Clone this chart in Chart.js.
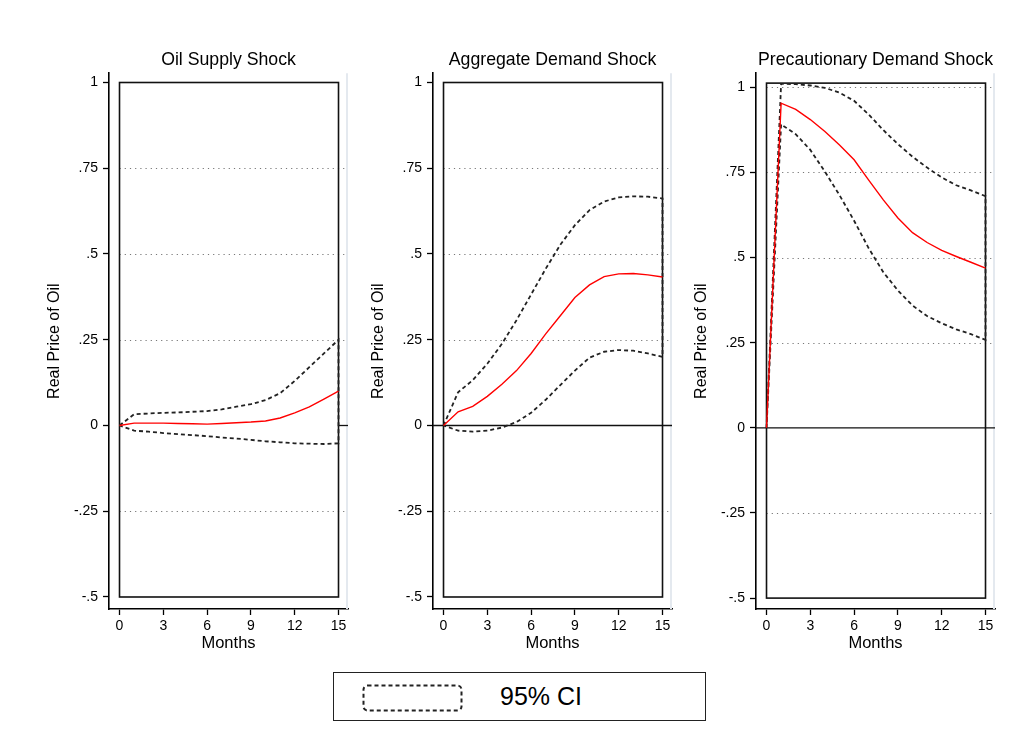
<!DOCTYPE html>
<html>
<head>
<meta charset="utf-8">
<script src="https://cdn.jsdelivr.net/npm/chart.js@4.4.1/dist/chart.umd.min.js"></script>
<style>
body{margin:0;background:#fff;width:1018px;height:753px;position:relative;overflow:hidden;font-family:"Liberation Sans",Arial,sans-serif}
canvas{position:absolute;top:40px}
#legend{position:absolute;left:333px;top:672px;width:373px;height:49px;box-sizing:border-box;border:1.5px solid #222}
#legend svg{position:absolute;left:28px;top:11px}
#legend span{position:absolute;left:166px;top:9px;font-size:25px;line-height:28px;color:#000}
</style>
</head>
<body>
<canvas id="p1" width="314" height="615" style="left:42px"></canvas>
<canvas id="p2" width="314" height="615" style="left:366px"></canvas>
<canvas id="p3" width="314" height="615" style="left:689px"></canvas>
<div id="legend">
  <svg width="102" height="29"><rect x="1.5" y="1.5" width="98" height="25" rx="4" ry="4" fill="none" stroke="#222" stroke-width="2" stroke-dasharray="4 3"/></svg>
  <span>95% CI</span>
</div>
<script>
"use strict";
// horizon 0..15 months
var months = [0,1,2,3,4,5,6,7,8,9,10,11,12,13,14,15];

// oil supply shock
var supplyIrf = [0,0.007,0.007,0.007,0.006,0.005,0.004,0.006,0.008,0.010,0.013,0.022,0.037,0.054,0.077,0.100];
var supplyHi  = [0,0.033,0.035,0.037,0.038,0.040,0.042,0.047,0.055,0.062,0.074,0.094,0.130,0.170,0.210,0.250];
var supplyLo  = [0,-0.015,-0.018,-0.022,-0.025,-0.028,-0.031,-0.035,-0.038,-0.042,-0.046,-0.049,-0.052,-0.053,-0.054,-0.052];

// aggregate demand shock
var aggIrf = [0,0.040,0.056,0.085,0.120,0.160,0.210,0.267,0.320,0.373,0.410,0.434,0.442,0.443,0.439,0.433];
var aggHi  = [0,0.097,0.132,0.180,0.238,0.307,0.382,0.457,0.527,0.584,0.628,0.653,0.665,0.668,0.667,0.662];
var aggLo  = [0,-0.015,-0.018,-0.015,-0.006,0.010,0.037,0.075,0.118,0.160,0.198,0.215,0.220,0.218,0.210,0.200];

// precautionary demand shock
var precIrf = [0,0.953,0.935,0.905,0.870,0.830,0.787,0.727,0.669,0.616,0.573,0.544,0.521,0.503,0.486,0.469];
var precHi  = [0,1.010,1.009,1.005,0.998,0.984,0.960,0.920,0.874,0.833,0.796,0.764,0.735,0.712,0.697,0.680];
var precLo  = [0,0.891,0.862,0.816,0.752,0.683,0.608,0.527,0.457,0.403,0.359,0.328,0.307,0.289,0.275,0.258];

var xTicks = [0,3,6,9,12,15];
var xTickLabels = ["0","3","6","9","12","15"];
var yTicks = [-0.5,-0.25,0,0.25,0.5,0.75,1];
var yTickLabels = ["-.5","-.25","0",".25",".5",".75","1"];

var FONT = "'Liberation Sans', Arial, sans-serif";

// stata style plot region: dotted grid, frame, zero line
var stataPlot = {
	id: 'stataPlot',
	beforeDatasetsDraw(chart, args, o) {
		var ctx = chart.ctx, a = chart.chartArea, x = chart.scales.x, y = chart.scales.y;
		var fx0 = x.getPixelForValue(xTicks[0]), fx1 = x.getPixelForValue(xTicks[xTicks.length-1]);
		ctx.save();
		// light edge at right
		ctx.strokeStyle = '#e4e9ef'; ctx.lineWidth = 2;
		ctx.beginPath(); ctx.moveTo(a.right - 1, a.top); ctx.lineTo(a.right - 1, a.bottom); ctx.stroke();
		// dotted grid
		ctx.strokeStyle = '#777'; ctx.lineWidth = 1; ctx.setLineDash([1.2, 4]);
		o.grid.forEach(v => {
			var py = Math.round(y.getPixelForValue(v)) + 0.5;
			ctx.beginPath(); ctx.moveTo(fx0, py); ctx.lineTo(a.right, py); ctx.stroke();
		});
		ctx.setLineDash([]);
		// zero line
		ctx.strokeStyle = '#111'; ctx.lineWidth = 1.3;
		var zy = y.getPixelForValue(0);
		ctx.beginPath();
		ctx.moveTo(o.zeroFrom == null ? a.left : x.getPixelForValue(o.zeroFrom), zy);
		ctx.lineTo(a.right, zy); ctx.stroke();
		// frame
		ctx.lineWidth = 1.6;
		var fy0 = y.getPixelForValue(o.frameTop), fy1 = y.getPixelForValue(yTicks[0]);
		ctx.strokeRect(fx0, fy0, fx1 - fx0, fy1 - fy0);
		ctx.restore();
	}
};

function pts(xs, ys) { return xs.map((m, i) => ({x: m, y: ys[i]})); }

function panel(id, title, irf, lo, hi, p) {
	// CI outline: upper band out, lower band back
	var band = pts(months, hi).concat(pts(months, lo).reverse());
	return new Chart(document.getElementById(id), {
		type: 'scatter',
		data: {
			datasets: [{
				data: pts(months, irf), showLine: true, borderColor: '#ff0000', borderWidth: 1.4,
				pointRadius: 0, tension: 0, order: 0
			},{
				data: band, showLine: true, borderColor: '#222', borderWidth: 1.8, borderDash: [4, 3],
				pointRadius: 0, tension: 0, order: 1
			}]
		},
		options: {
			responsive: false, animation: false, devicePixelRatio: 1,
			layout: {padding: {right: 8}},
			plugins: {
				legend: {display: false}, tooltip: {enabled: false},
				title: {display: true, text: title, fullSize: false, color: '#000',
					font: {family: FONT, size: 17.7, weight: 'normal'}, padding: {top: 9, bottom: 3}},
				stataPlot: p
			},
			scales: {
				x: {
					type: 'linear', min: -0.72, max: 15.65,
					afterBuildTicks: s => { s.ticks = xTicks.map(v => ({value: v})); },
					afterFit: s => { s.height = 46; },
					ticks: {color: '#000', font: {family: FONT, size: 14}, padding: 3, maxRotation: 0, autoSkip: false,
						callback: (v, i) => xTickLabels[i]},
					grid: {drawOnChartArea: false, tickLength: 6, tickColor: '#000', tickWidth: 1.3},
					border: {color: '#000', width: 1.6},
					title: {display: true, text: 'Months', color: '#000', font: {family: FONT, size: 16.5}, padding: {top: 0, bottom: 2}}
				},
				y: {
					min: p.ymin, max: p.ymax,
					afterBuildTicks: s => { s.ticks = yTicks.map(v => ({value: v})); },
					afterFit: s => { s.width = 67; },
					ticks: {color: '#000', font: {family: FONT, size: 14}, padding: 5, autoSkip: false,
						callback: (v, i) => yTickLabels[i]},
					grid: {drawOnChartArea: false, tickLength: 6, tickColor: '#000', tickWidth: 1.3},
					border: {color: '#000', width: 1.6},
					title: {display: true, text: 'Real Price of Oil', color: '#000', font: {family: FONT, size: 16}, padding: {top: 3, bottom: 0}}
				}
			}
		},
		plugins: [stataPlot]
	});
}

panel('p1', 'Oil Supply Shock', supplyIrf, supplyLo, supplyHi,
	{grid: [0.75, 0.5, 0.25, -0.25], zeroFrom: 15, frameTop: 1, ymin: -0.535, ymax: 1.027});
panel('p2', 'Aggregate Demand Shock', aggIrf, aggLo, aggHi,
	{grid: [0.75, 0.5, 0.25, -0.25], zeroFrom: null, frameTop: 1, ymin: -0.535, ymax: 1.027});
panel('p3', 'Precautionary Demand Shock', precIrf, precLo, precHi,
	{grid: [1, 0.75, 0.5, 0.25, -0.25], zeroFrom: null, frameTop: 1.012, ymin: -0.532, ymax: 1.041});
</script>
</body>
</html>
